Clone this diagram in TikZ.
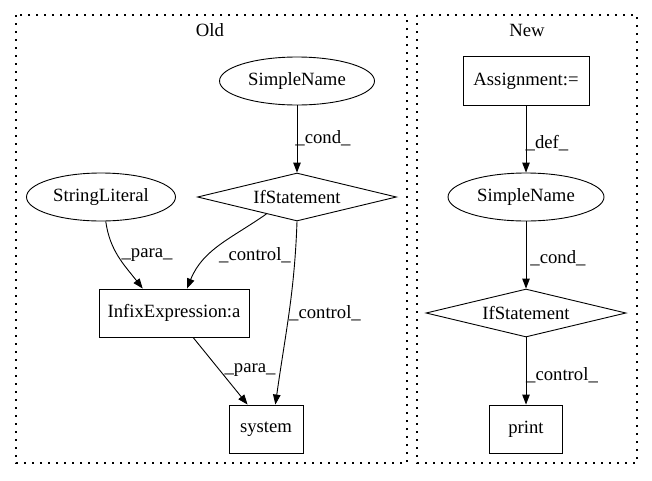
\documentclass[tikz,border=0pt]{standalone}
\usepackage{fontspec}
\setmainfont{Liberation Serif}
\usetikzlibrary{shapes.geometric,arrows.meta}
\begin{document}
\begin{tikzpicture}[x=1pt,y=1pt,
  every node/.style={font=\fontsize{18.7}{21}\selectfont},
  cluster/.style={draw,line width=1.1pt,dash pattern=on 1.6pt off 6.4pt},
  ell/.style={draw,ellipse,line width=0.9pt,inner sep=0pt},
  boxn/.style={draw,rectangle,line width=0.9pt,inner sep=0pt},
  dia/.style={draw,diamond,line width=0.9pt,inner sep=0pt,aspect=4.15},
  arr/.style={line width=0.9pt,-{Triangle[length=10pt,width=7.5pt]}},
  lab/.style={inner sep=0pt}]
\useasboundingbox (0,0) rectangle (652,-480);
% clusters
\draw[cluster] (16,-15) rectangle (407,-463);
\draw[cluster] (417,-15) rectangle (637,-463);
\node (oldlab) at (210,-30) {Old};
\node (newlab) at (527,-30) {New};
% Old nodes
\node[ell,minimum width=155pt,minimum height=48pt] (sn) at (297,-81) {SimpleName};
\node[dia,minimum width=199pt,minimum height=48pt] (ifs) at (297,-197) {IfStatement};
\node[ell,minimum width=149pt,minimum height=48pt] (sl) at (101,-197) {StringLiteral};
\node[boxn,minimum width=150pt,minimum height=48pt] (infix) at (174,-313) {InfixExpression:a};
\node[boxn,minimum width=74pt,minimum height=48pt] (sys) at (266,-429) {system};
% New nodes
\node[boxn,minimum width=126pt,minimum height=49pt] (asg) at (526,-81) {Assignment:=};
\node[ell,minimum width=156pt,minimum height=48pt] (sn2) at (526,-197) {SimpleName};
\node[dia,minimum width=200pt,minimum height=48pt] (ifs2) at (526,-313) {IfStatement};
\node[boxn,minimum width=73pt,minimum height=48pt] (pr) at (526,-429) {print};
% Old edges
\draw[arr] (sn) -- (ifs);
\draw[arr] (sl.-79) to[out=-82,in=128] (infix.142);
\draw[arr] (ifs.209) to[out=-145,in=68] (infix.62);
\draw[arr] (ifs.south) to[out=-92,in=82] (sys.69);
\draw[arr] (infix.-52) -- (sys.127);
% New edges
\draw[arr] (asg) -- (sn2);
\draw[arr] (sn2) -- (ifs2);
\draw[arr] (ifs2) -- (pr);
% labels
\node[lab] (l1) at (323,-138) {\_cond\_};
\node[lab] (l2) at (147,-255) {\_para\_};
\node[lab] (l3) at (255,-255) {\_control\_};
\node[lab] (l4) at (325,-313) {\_control\_};
\node[lab] (l5) at (250,-370) {\_para\_};
\node[lab] (l6) at (547,-143) {\_def\_};
\node[lab] (l7) at (558,-258) {\_cond\_};
\node[lab] (l8) at (562,-375) {\_control\_};
\end{tikzpicture}
\end{document}
